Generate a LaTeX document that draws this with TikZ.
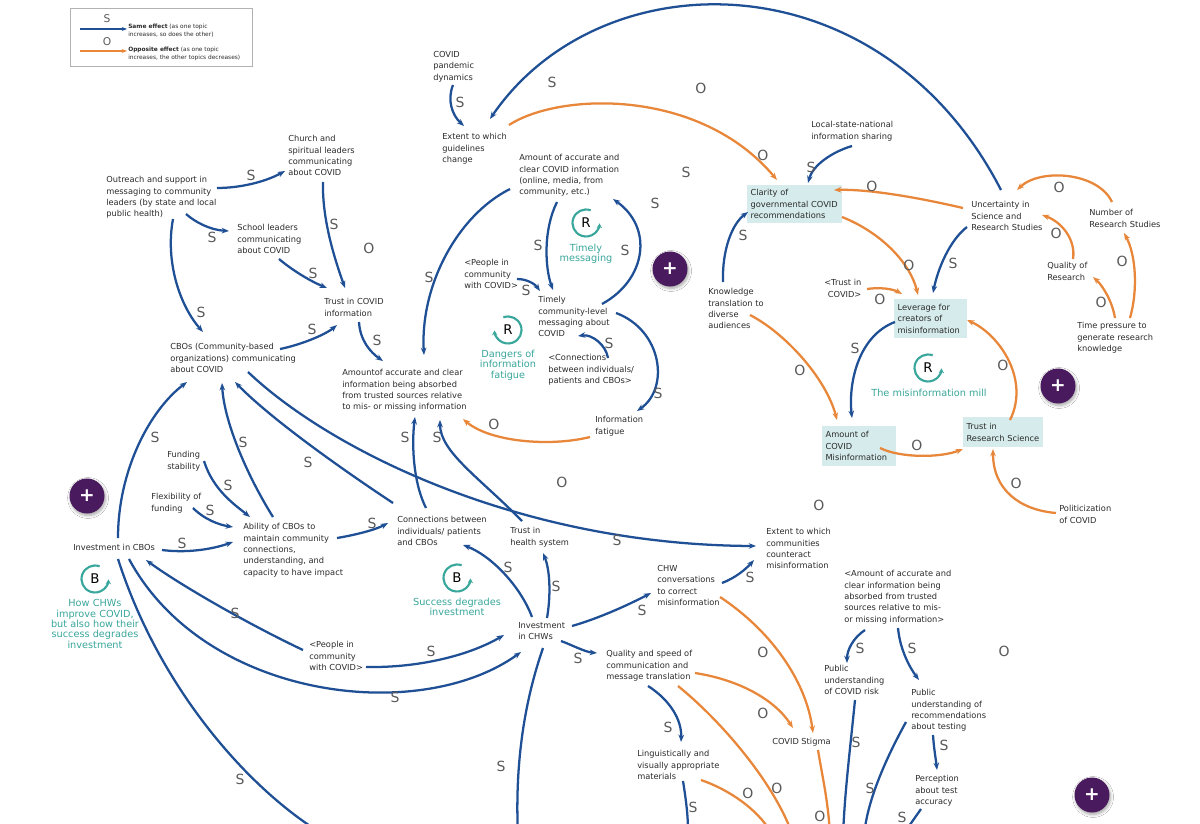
\documentclass[tikz,border=0pt]{standalone}
\usepackage{fontspec}
\setmainfont{DejaVu Sans}
\usetikzlibrary{arrows.meta}
\usetikzlibrary{shadows.blur}
\definecolor{sblue}{HTML}{1F4F94}
\definecolor{oorange}{HTML}{E8873A}
\definecolor{loopteal}{HTML}{3AA79C}
\definecolor{boxfill}{HTML}{D6EBEB}
\definecolor{plum}{HTML}{4A1A5E}
\definecolor{lblgray}{HTML}{5A5A5A}
\definecolor{txtgray}{HTML}{2B2B2B}
\begin{document}
\begin{tikzpicture}[x=0.75pt,y=0.75pt,yscale=-1,xscale=1,
  txt/.style={anchor=north west,align=left,inner sep=0.75pt,text=txtgray,font=\fontsize{6.2}{8.6}\selectfont},
  tbox/.style={txt,fill=boxfill,inner xsep=2.5pt,inner ysep=0pt},
  legtxt/.style={anchor=north west,align=left,inner sep=0pt,text=txtgray,font=\fontsize{4.4}{5.5}\selectfont},
  lbl/.style={inner sep=0pt,text=lblgray,font=\fontsize{10.5}{10.5}\selectfont},
  sarr/.style={draw=sblue,line width=1.7pt,-{Stealth[length=5.5pt,width=4.2pt]}},
  oarr/.style={draw=oorange,line width=1.7pt,-{Stealth[length=5.5pt,width=4.2pt]}},
  looplet/.style={inner sep=0pt,font=\fontsize{10}{10}\selectfont},
  looparr/.style={draw=loopteal,line width=1.6pt,-{Stealth[length=3.5pt,width=4pt]}},
  looptxt/.style={align=center,inner sep=0pt,text=loopteal,font=\fontsize{7.3}{7.8}\selectfont},
  plusbtn/.style={circle,fill=plum,minimum size=26.25pt,inner sep=0pt,text=white,font=\bfseries\fontsize{14}{14}\selectfont,blur shadow={shadow blur steps=6,shadow xshift=0.8pt,shadow yshift=-1.5pt,shadow opacity=35}}
]
%uncomment if require: \path (0,824); %set diagram left start at 0, and has height of 824
\useasboundingbox (0,0) rectangle (1200,824);
\fill[white] (0,0) rectangle (1200,824);

%Legend
\draw[draw=black!30,line width=0.6pt] (70,8) rectangle (252,66);
\coordinate (legSa) at (80,29);
\coordinate (legSb) at (127,29);
\coordinate (legOa) at (80,51);
\coordinate (legOb) at (127,51);
\draw[sarr,line width=1.2pt,-{Stealth[length=4pt,width=3pt]}] (legSa) -- (legSb) node[lbl,font=\fontsize{8}{8}\selectfont] (legS) at (107,19) {S};
\draw[oarr,line width=1.2pt,-{Stealth[length=4pt,width=3pt]}] (legOa) -- (legOb) node[lbl,font=\fontsize{8}{8}\selectfont] (legO) at (107,42) {O};
\node[legtxt] (legSame) at (128,24) {\textbf{Same effect} (as one topic\\increases, so does the other)};
\node[legtxt] (legOpp) at (128,47) {\textbf{Opposite effect} (as one topic\\increases, the other topics decreases)};

%Text Nodes
\node[txt] (pand) at (432,50) {COVID\\pandemic\\dynamics};
\node[txt] (guide) at (441,132) {Extent to which\\guidelines\\change};
\node[txt] (amtclear) at (518,153) {Amount of accurate and\\clear COVID information\\(online, media, from\\community, etc.)};
\node[txt] (church) at (287,134) {Church and\\spiritual leaders\\communicating\\about COVID};
\node[txt] (outreach) at (105,175) {Outreach and support in\\messaging to community\\leaders (by state and local\\public health)};
\node[txt] (school) at (236,223) {School leaders\\communicating\\about COVID};
\node[txt] (trustcovid) at (323,297) {Trust in COVID\\information};
\node[txt] (cbos) at (169,342) {CBOs (Community-based\\organizations) communicating\\about COVID};
\node[txt] (absorb) at (341,368) {Amountof accurate and clear\\information being absorbed\\from trusted sources relative\\to mis- or missing information};
\node[txt] (peopleA) at (463,258) {<People in\\community\\with COVID>};
\node[txt] (timely) at (537,295) {Timely\\community-level\\messaging about\\COVID};
\node[txt] (connA) at (547,353) {<Connections\\between individuals/\\patients and CBOs>};
\node[txt] (fatigue) at (594,415) {Information\\fatigue};
\node[txt] (localstate) at (810,120) {Local-state-national\\information sharing};
\node[tbox,text width=66.25pt,minimum height=28.5pt] (clarity) at (747,185) {Clarity of\\governmental COVID\\recommendations};
\node[txt] (uncert) at (970,200) {Uncertainty in\\Science and\\Research Studies};
\node[txt] (numres) at (1088,208) {Number of\\Research Studies};
\node[txt] (quality) at (1046,261) {Quality of\\Research};
\node[txt] (timepress) at (1076,321) {Time pressure to\\generate research\\knowledge};
\node[txt] (knowl) at (707,287) {Knowledge\\translation to\\diverse\\audiences};
\node[txt,align=right] (trustcov2) at (823,278) {<Trust in\\COVID>};
\node[tbox,text width=49.5pt,minimum height=29.25pt] (leverage) at (894,299) {Leverage for\\creators of\\misinformation};
\node[tbox,text width=50.25pt,minimum height=30pt] (misinfo) at (822,426) {Amount of\\COVID\\Misinformation};
\node[tbox,text width=55pt,minimum height=22.5pt] (trustres) at (963,417) {Trust in\\Research Science};
\node[txt] (politic) at (1058,504) {Politicization\\of COVID};
\node[txt] (extcomm) at (765,527) {Extent to which\\communities\\counteract\\misinformation};
\node[txt] (funding) at (166,450) {Funding\\stability};
\node[txt] (flex) at (150,492) {Flexibility of\\funding};
\node[txt] (ability) at (242,522) {Ability of CBOs to\\maintain community\\connections,\\understanding, and\\capacity to have impact};
\node[txt] (invcbo) at (72,543) {Investment in CBOs};
\node[txt] (connections) at (396,515) {Connections between\\individuals/ patients\\and CBOs};
\node[txt] (trusths) at (509,526) {Trust in\\health system};
\node[txt] (peopleB) at (308,640) {<People in\\community\\with COVID>};
\node[txt] (invchw) at (517,621) {Investment\\in CHWs};
\node[txt] (chwconv) at (656,564) {CHW\\conversations\\to correct\\misinformation};
\node[txt] (quality2) at (605,649) {Quality and speed of\\communication and\\message translation};
\node[txt] (ling) at (636,749) {Linguistically and\\visually appropriate\\materials};
\node[txt] (stigma) at (771,737) {COVID Stigma};
\node[txt] (amtB) at (843,569) {<Amount of accurate and\\clear information being\\absorbed from trusted\\sources relative to mis-\\or missing information>};
\node[txt] (pubrisk) at (823,664) {Public\\understanding\\of COVID risk};
\node[txt] (pubrec) at (910,688) {Public\\understanding of\\recommendations\\about testing};
\node[txt] (percep) at (914,774) {Perception\\about test\\accuracy};

%Loop markers
\node[looplet] (loopTM) at (586,223) {R};
\draw[looparr] (loopTM.center) ++(-70:13.5) arc[start angle=-70,end angle=-358,radius=13.5];
\node[looptxt] (loopTMtxt) at (586,254) {Timely\\messaging};
\node[looplet] (loopDF) at (508,330) {R};
\draw[looparr] (loopDF.center) ++(-110:13.5) arc[start angle=-110,end angle=178,radius=13.5];
\node[looptxt] (loopDFtxt) at (508,365) {Dangers of\\information\\fatigue};
\node[looplet] (loopMM) at (928,368) {R};
\draw[looparr] (loopMM.center) ++(-70:13.5) arc[start angle=-70,end angle=-358,radius=13.5];
\node[looptxt] (loopMMtxt) at (929,393) {The misinformation mill};
\node[looplet] (loopSD) at (457,578) {B};
\draw[looparr] (loopSD.center) ++(-70:13.5) arc[start angle=-70,end angle=-358,radius=13.5];
\node[looptxt] (loopSDtxt) at (457,607) {Success degrades\\investment};
\node[looplet] (loopCHW) at (95,579) {B};
\draw[looparr] (loopCHW.center) ++(-70:13.5) arc[start angle=-70,end angle=-358,radius=13.5];
\node[looptxt] (loopCHWtxt) at (95,624) {How CHWs\\improve COVID,\\but also how their\\success degrades\\investment};

%Plus buttons
\node[plusbtn] (plusA) at (670,269) {+};
\node[plusbtn] (plusB) at (1058,386) {+};
\node[plusbtn] (plusC) at (87,496) {+};
\node[plusbtn] (plusD) at (1092,795) {+};

%Free ends at the bottom edge
\coordinate (botA) at (326,836);
\coordinate (botB) at (518,836);
\coordinate (botC) at (688,836);
\coordinate (botD) at (773,836);
\coordinate (botE) at (793,836);
\coordinate (botF) at (830,836);
\coordinate (botG) at (843,836);
\coordinate (botH) at (864,836);
\coordinate (botI) at (902,836);

%Curve Lines
\draw[sarr] ([shift={(31,-10)}]uncert.north west) .. controls (880,-45) and (600,-42) .. ([shift={(49,-13)}]guide.north west) node[lbl] (l1) at (552,82) {S};
%Curve Lines
\draw[sarr] ([shift={(21,35)}]pand.north west) .. controls (447,100) and (452,115) .. ([shift={(23,-6)}]guide.north west) node[lbl] (l2) at (460,102) {S};
%Curve Lines
\draw[oarr] ([shift={(68,-7)}]guide.north west) .. controls (560,92) and (700,88) .. ([shift={(30,-5)}]clarity.north west) node[lbl] (l3) at (763,155) {O};
%Curve Lines
\draw[sarr] ([shift={(42,26)}]localstate.north west) .. controls (832,152) and (813,165) .. ([shift={(61,-2)}]clarity.north west) node[lbl] (l4) at (811,167) {S};
%Curve Lines
\draw[oarr] ([shift={(-7,8)}]uncert.north west) .. controls (920,198) and (870,189) .. ([shift={(87,5)}]clarity.north west) node[lbl] (l5) at (872,186) {O};
%Curve Lines
\draw[oarr] ([shift={(24,-6)}]numres.north west) .. controls (1098,172) and (1040,168) .. ([shift={(47,-10)}]uncert.north west) node[lbl] (l6) at (1059,187) {O};
%Curve Lines
\draw[oarr] ([shift={(27,-2)}]quality.north west) .. controls (1076,240) and (1062,222) .. ([shift={(72,15)}]uncert.north west) node[lbl] (l7) at (1056,233) {O};
%Curve Lines
\draw[oarr] ([shift={(39,-3)}]timepress.north west) .. controls (1112,300) and (1102,285) .. ([shift={(47,16)}]quality.north west) node[lbl] (l8) at (1101,302) {O};
%Curve Lines
\draw[oarr] ([shift={(54,-3)}]timepress.north west) .. controls (1138,290) and (1136,255) .. ([shift={(36,25)}]numres.north west) node[lbl] (l9) at (1122,261) {O};
%Curve Lines
\draw[oarr] ([shift={(95,32)}]clarity.north west) .. controls (880,232) and (910,262) .. ([shift={(24,-4)}]leverage.north west) node[lbl] (l10) at (909,265) {O};
%Curve Lines
\draw[sarr] ([shift={(-3,27)}]uncert.north west) .. controls (950,240) and (938,268) .. ([shift={(39,-6)}]leverage.north west) node[lbl] (l11) at (953,263) {S};
%Curve Lines
\draw[sarr] ([shift={(16,-5)}]knowl.north west) .. controls (722,250) and (732,224) .. ([shift={(1,27)}]clarity.north west) node[lbl] (l12) at (743,235) {S};
%Curve Lines
\draw[oarr] ([shift={(44,11)}]trustcov2.north west) .. controls (880,287) and (893,289) .. ([shift={(8,-5)}]leverage.north west) node[lbl] (l13) at (880,299) {O};
%Curve Lines
\draw[oarr] ([shift={(43,28)}]knowl.north west) .. controls (785,333) and (826,378) .. ([shift={(15,-6)}]misinfo.north west) node[lbl] (l14) at (800,370) {O};
%Curve Lines
\draw[sarr] ([shift={(1,23)}]leverage.north west) .. controls (860,335) and (848,380) .. ([shift={(30,-8)}]misinfo.north west) node[lbl] (l15) at (855,348) {S};
%Curve Lines
\draw[oarr] ([shift={(58,22)}]misinfo.north west) .. controls (900,458) and (940,458) .. ([shift={(0,32)}]trustres.north west) node[lbl] (l16) at (917,445) {O};
%Curve Lines
\draw[oarr] ([shift={(47,3)}]trustres.north west) .. controls (1030,380) and (1000,335) .. ([shift={(73,21)}]leverage.north west) node[lbl] (l17) at (1003,365) {O};
%Curve Lines
\draw[oarr] ([shift={(-2,9)}]politic.north west) .. controls (1020,510) and (993,490) .. ([shift={(30,32)}]trustres.north west) node[lbl] (l18) at (1016,483) {O};
%Curve Lines
\draw[sarr] ([shift={(-8,36)}]amtclear.north west) .. controls (458,215) and (420,285) .. ([shift={(83,-13)}]absorb.north west) node[lbl] (l19) at (429,277) {S};
%Curve Lines
\draw[sarr] ([shift={(39,49)}]amtclear.north west) .. controls (543,230) and (545,268) .. ([shift={(16,-5)}]timely.north west) node[lbl] (l20) at (538,245) {S};
%Curve Lines
\draw[sarr] ([shift={(65,9)}]timely.north west) .. controls (646,280) and (654,228) .. ([shift={(95,46)}]amtclear.north west) node[lbl] (l21) at (625,250) {S};
%Curve Lines
\draw[sarr] ([shift={(54,21)}]peopleA.north west) .. controls (527,279) and (535,284) .. ([shift={(3,-4)}]timely.north west) node[lbl] (l22) at (526,290) {S};
%Curve Lines
\draw[sarr] ([shift={(61,5)}]connA.north west) .. controls (606,345) and (592,334) .. ([shift={(41,41)}]timely.north west) node[lbl] (l23) at (609,343) {S};
%Curve Lines
\draw[sarr] ([shift={(79,18)}]timely.north west) .. controls (662,330) and (670,388) .. ([shift={(43,-4)}]fatigue.north west) node[lbl] (l24) at (658,393) {S};
%Curve Lines
\draw[oarr] ([shift={(-4,22)}]fatigue.north west) .. controls (550,447) and (490,442) .. ([shift={(122,51)}]absorb.north west) node[lbl] (l25) at (494,424) {O};
%Curve Lines
\draw[sarr] ([shift={(36,25)}]trustcovid.north west) .. controls (360,340) and (370,352) .. ([shift={(42,-7)}]absorb.north west) node[lbl] (l26) at (377,340) {S};
%Curve Lines
\draw[sarr] ([shift={(36,48)}]church.north west) .. controls (322,220) and (335,260) .. ([shift={(22,-9)}]trustcovid.north west) node[lbl] (l27) at (334,224) {S};
%Curve Lines
\draw[sarr] ([shift={(112,13)}]outreach.north west) .. controls (240,188) and (265,182) .. ([shift={(-2,37)}]church.north west) node[lbl] (l28) at (251,175) {S};
%Curve Lines
\draw[sarr] ([shift={(81,39)}]outreach.north west) .. controls (195,222) and (210,230) .. ([shift={(-7,8)}]school.north west) node[lbl] (l29) at (212,237) {S};
%Curve Lines
\draw[sarr] ([shift={(43,36)}]school.north west) .. controls (292,270) and (310,281) .. ([shift={(4,-9)}]trustcovid.north west) node[lbl] (l30) at (313,273) {S};
%Curve Lines
\draw[sarr] ([shift={(68,44)}]outreach.north west) .. controls (165,262) and (180,306) .. ([shift={(34,-10)}]cbos.north west) node[lbl] (l31) at (201,312) {S};
%Curve Lines
\draw[sarr] ([shift={(111,7)}]cbos.north west) .. controls (300,345) and (325,335) .. ([shift={(14,28)}]trustcovid.north west) node[lbl] (l32) at (312,329) {S};
%Curve Lines
\draw[sarr] ([shift={(46,-5)}]invcbo.north west) .. controls (118,470) and (150,410) .. ([shift={(18,40)}]cbos.north west) node[lbl] (l33) at (155,437) {S};
%Curve Lines
\draw[sarr] ([shift={(31,-5)}]ability.north west) .. controls (245,472) and (224,420) .. ([shift={(53,41)}]cbos.north west) node[lbl] (l34) at (243,442) {S};
%Curve Lines
\draw[sarr] ([shift={(-3,-12)}]connections.north west) .. controls (340,468) and (270,418) .. ([shift={(66,40)}]cbos.north west) node[lbl] (l35) at (308,462) {S};
%Curve Lines
\draw[sarr] ([shift={(79,30)}]cbos.north west) .. controls (330,450) and (520,545) .. ([shift={(-9,19)}]extcomm.north west) node[lbl] (l36) at (617,540) {S};
%Curve Lines
\draw[sarr] ([shift={(38,11)}]funding.north west) .. controls (213,490) and (235,505) .. ([shift={(8,-5)}]ability.north west) node[lbl] (l37) at (228,485) {S};
%Curve Lines
\draw[sarr] ([shift={(43,16)}]flex.north west) .. controls (205,520) and (220,525) .. ([shift={(-9,5)}]ability.north west) node[lbl] (l38) at (210,510) {S};
%Curve Lines
\draw[sarr] ([shift={(90,7)}]invcbo.north west) .. controls (185,553) and (210,550) .. ([shift={(-9,20)}]ability.north west) node[lbl] (l39) at (182,543) {S};
%Curve Lines
\draw[sarr] ([shift={(95,16)}]ability.north west) .. controls (355,535) and (375,530) .. ([shift={(-8,8)}]connections.north west) node[lbl] (l40) at (372,523) {S};
%Curve Lines
\draw[sarr] ([shift={(30,-7)}]connections.north west) .. controls (412,480) and (412,440) .. ([shift={(74,49)}]absorb.north west) node[lbl] (l41) at (405,437) {S};
%Curve Lines
\draw[sarr] ([shift={(13,-5)}]trusths.north west) .. controls (480,478) and (440,452) .. ([shift={(99,52)}]absorb.north west) node[lbl] (l42) at (437,437) {S};
%Curve Lines
\draw[sarr] ([shift={(15,-4)}]invchw.north west) .. controls (520,585) and (490,555) .. ([shift={(67,30)}]connections.north west) node[lbl] (l43) at (508,567) {S};
%Curve Lines
\draw[sarr] ([shift={(30,-3)}]invchw.north west) .. controls (551,595) and (550,570) .. ([shift={(34,27)}]trusths.north west) node[lbl] (l44) at (556,586) {S};
%Curve Lines
\draw[sarr] ([shift={(55,5)}]invchw.north west) .. controls (600,618) and (630,604) .. ([shift={(-5,29)}]chwconv.north west) node[lbl] (l45) at (642,610) {S};
%Curve Lines
\draw[sarr] ([shift={(44,20)}]invchw.north west) .. controls (572,645) and (585,652) .. ([shift={(-8,4)}]quality2.north west) node[lbl] (l46) at (578,658) {S};
%Curve Lines
\draw[sarr] ([shift={(66,19)}]chwconv.north west) .. controls (735,578) and (745,570) .. ([shift={(-11,33)}]extcomm.north west) node[lbl] (l47) at (750,577) {S};
%Curve Lines
\draw[sarr] ([shift={(-5,10)}]peopleB.north west) .. controls (250,625) and (180,585) .. ([shift={(74,17)}]invcbo.north west) node[lbl] (l48) at (235,613) {S};
%Curve Lines
\draw[sarr] ([shift={(57,16)}]invcbo.north west) .. controls (205,700) and (420,725) .. ([shift={(4,31)}]invchw.north west) node[lbl] (l49) at (395,697) {S};
%Curve Lines
\draw[sarr] ([shift={(58,27)}]peopleB.north west) .. controls (420,668) and (470,655) .. ([shift={(-13,14)}]invchw.north west) node[lbl] (l50) at (431,651) {S};
%Curve Lines
\draw[sarr] ([shift={(46,16)}]invcbo.north west) .. controls (160,690) and (250,790) .. (botA) node[lbl] (l51) at (240,779) {S};
%Curve Lines
\draw[sarr] ([shift={(26,27)}]invchw.north west) .. controls (525,700) and (515,760) .. (botB) node[lbl] (l52) at (501,766) {S};
%Curve Lines
\draw[sarr] ([shift={(43,37)}]quality2.north west) .. controls (670,700) and (682,720) .. ([shift={(45,-7)}]ling.north west) node[lbl] (l53) at (668,727) {S};
%Curve Lines
\draw[oarr] ([shift={(90,24)}]quality2.north west) .. controls (740,680) and (775,700) .. ([shift={(22,-9)}]stigma.north west) node[lbl] (l54) at (763,713) {O};
%Curve Lines
\draw[oarr] ([shift={(73,37)}]quality2.north west) .. controls (720,720) and (772,780) .. (botE) node[lbl] (l55) at (777,788) {O};
%Curve Lines
\draw[oarr] ([shift={(64,33)}]chwconv.north west) .. controls (770,630) and (806,680) .. ([shift={(42,-4)}]stigma.north west) node[lbl] (l56) at (763,652) {O};
%Curve Lines
\draw[oarr] ([shift={(47,13)}]stigma.north west) .. controls (822,775) and (828,800) .. (botF) node[lbl] (l57) at (820,816) {O};
%Curve Lines
\draw[sarr] ([shift={(47,32)}]ling.north west) .. controls (686,800) and (688,815) .. (botC) node[lbl] (l58) at (693,807) {S};
%Curve Lines
\draw[oarr] ([shift={(65,31)}]ling.north west) .. controls (730,790) and (758,810) .. (botD) node[lbl] (l59) at (748,793) {O};
%Curve Lines
\draw[sarr] ([shift={(22,61)}]amtB.north west) .. controls (853,638) and (847,650) .. ([shift={(24,-1)}]pubrisk.north west) node[lbl] (l60) at (860,648) {S};
%Curve Lines
\draw[sarr] ([shift={(55,59)}]amtB.north west) .. controls (900,650) and (910,668) .. ([shift={(9,-8)}]pubrec.north west) node[lbl] (l61) at (912,648) {S};
%Curve Lines
\draw[sarr] ([shift={(23,47)}]pubrec.north west) .. controls (934,750) and (936,760) .. ([shift={(23,-4)}]percep.north west) node[lbl] (l62) at (944,745) {S};
%Curve Lines
\draw[sarr] ([shift={(32,36)}]pubrisk.north west) .. controls (850,750) and (845,790) .. (botG) node[lbl] (l63) at (856,742) {S};
%Curve Lines
\draw[sarr] ([shift={(-4,34)}]pubrec.north west) .. controls (885,760) and (868,800) .. (botH) node[lbl] (l64) at (870,788) {S};
%Curve Lines
\draw[sarr] ([shift={(7,35)}]percep.north west) -- (botI) node[lbl] (l65) at (902,817) {S};

%Loose polarity labels
\node[lbl] (lx1) at (701,88) {O};
\node[lbl] (lx2) at (686,172) {S};
\node[lbl] (lx3) at (655,203) {S};
\node[lbl] (lx4) at (369,248) {O};
\node[lbl] (lx5) at (562,482) {O};
\node[lbl] (lx6) at (819,505) {O};
\node[lbl] (lx7) at (1004,651) {O};

\end{tikzpicture}
\end{document}
